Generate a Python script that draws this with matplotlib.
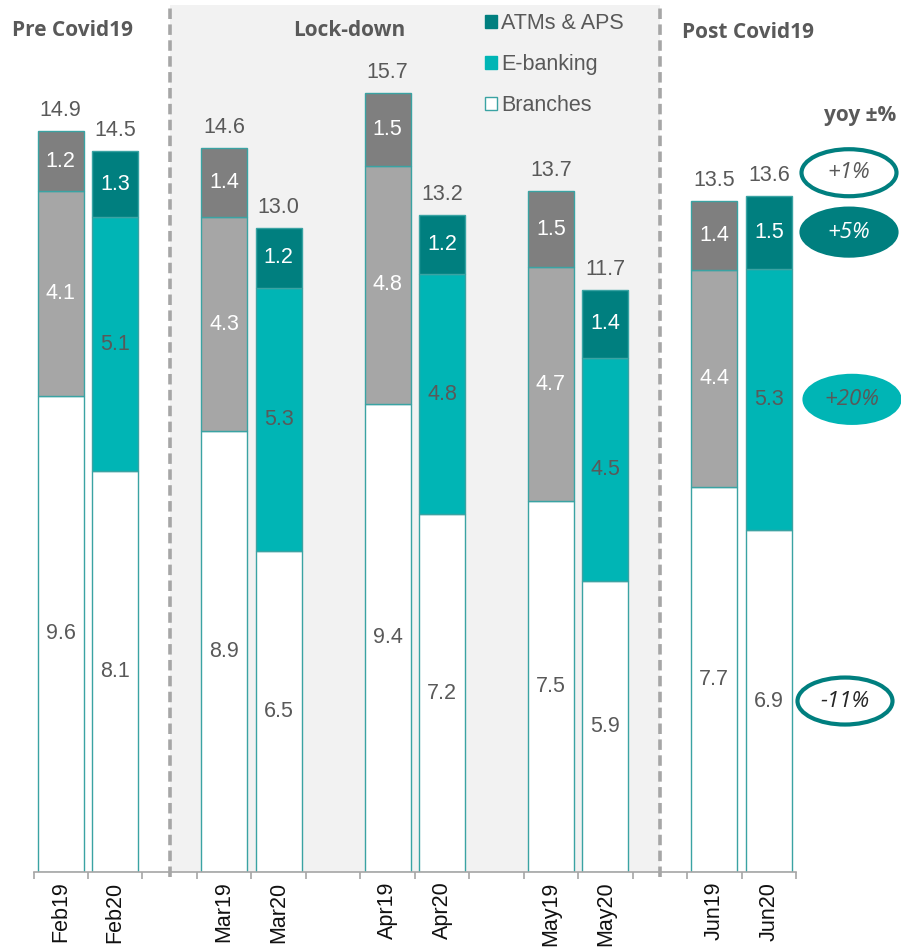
import matplotlib.pyplot as plt
import numpy as np
from matplotlib.patches import Patch, Ellipse
from matplotlib.transforms import blended_transform_factory

plt.rcParams['font.family'] = ['Liberation Sans', 'DejaVu Sans']

# monthly transactions by channel, 2019 vs 2020
months = ['Feb19', 'Feb20', 'Mar19', 'Mar20', 'Apr19', 'Apr20',
          'May19', 'May20', 'Jun19', 'Jun20']
slots = [0, 1, 3, 4, 6, 7, 9, 10, 12, 13]
branches = [9.58, 8.06, 8.87, 6.46, 9.42, 7.20, 7.46, 5.86, 7.74, 6.88]
ebanking = [4.12, 5.11, 4.31, 5.29, 4.79, 4.83, 4.71, 4.49, 4.37, 5.26]
atms = [1.21, 1.33, 1.39, 1.21, 1.47, 1.19, 1.53, 1.37, 1.39, 1.47]
channels = ['ATMs & APS', 'E-banking', 'Branches']
phases = ['Pre Covid19', 'Lock-down', 'Post Covid19']
yoy = ['+1%', '+5%', '+20%', '-11%']

teal_dark = '#007F7F'
teal = '#00B5B5'
edge = '#3AA3A3'
txt = '#595959'
fs = 15.5

fig = plt.figure(figsize=(9.01, 9.48), dpi=100)
ax = fig.add_axes([33.5/901, 76/948, 762.5/901, 867/948])
ax.set_xlim(-0.5, 13.5)
ax.set_ylim(0, 867/49.7)

# lock-down period
ax.axvspan(2, 11, color='#F2F2F2', zorder=0, lw=0)
for xd in (2, 11):
    ax.axvline(xd, ymin=-0.006, ymax=0.996, color='#A6A6A6', lw=2.6,
               ls=(0, (2.9, 1.5)), clip_on=False, zorder=1)

w = 0.845
for i, x in enumerate(slots):
    old = months[i].endswith('19')
    c_atm = '#7F7F7F' if old else teal_dark
    c_eb = '#A6A6A6' if old else teal
    b, e, a = branches[i], ebanking[i], atms[i]
    ax.bar(x, b, w, color='white', edgecolor=edge, lw=1, zorder=2)
    ax.bar(x, e, w, bottom=b, color=c_eb, edgecolor=edge, lw=1, zorder=2)
    ax.bar(x, a, w, bottom=b + e, color=c_atm, edgecolor=edge, lw=1, zorder=2)
    ax.text(x, b / 2, f'{b:.1f}', ha='center', va='center', fontsize=fs, color=txt, zorder=3)
    ax.text(x, b + e / 2, f'{e:.1f}', ha='center', va='center', fontsize=fs,
            color='white' if old else txt, zorder=3)
    ax.text(x, b + e + a / 2, f'{a:.1f}', ha='center', va='center', fontsize=fs,
            color='white', zorder=3)
    tot = b + e + a
    ax.text(x, tot + 0.3, f'{tot:.1f}', ha='center', va='baseline', fontsize=fs,
            color=txt, zorder=3)

ax.set_xticks(slots, months, rotation=90, fontsize=fs)
ax.set_xticks(np.arange(-0.5, 14, 1), minor=True)
ax.tick_params(axis='x', which='major', length=0, pad=7, labelcolor='#111111')
ax.tick_params(axis='x', which='minor', length=5, width=1.2, color='#A6A6A6')
ax.set_yticks([])
for s in ('left', 'top', 'right'):
    ax.spines[s].set_visible(False)
ax.spines['bottom'].set_color('#A6A6A6')
ax.spines['bottom'].set_linewidth(1.2)

handles = [Patch(facecolor=teal_dark, edgecolor=teal_dark),
           Patch(facecolor=teal, edgecolor=teal),
           Patch(facecolor='white', edgecolor=edge)]
ax.legend(handles, channels, loc='upper left', bbox_to_anchor=(485/901, 1 - 13/948),
          bbox_transform=fig.transFigure, frameon=False, fontsize=fs,
          handlelength=0.55, handleheight=0.55, handletextpad=0.2,
          labelspacing=0.93, borderpad=0, borderaxespad=0, labelcolor=txt)

hdr = dict(fontsize=15, fontweight='bold', color=txt, family='Open Sans', va='center')
fig.text(12/901, 1 - 31/948, phases[0], ha='left', **hdr)
fig.text(349/901, 1 - 30/948, phases[1], ha='center', **hdr)
fig.text(682/901, 1 - 33/948, phases[2], ha='left', **hdr)
fig.text(824/901, 1 - 115/948, 'yoy ±%', ha='left', **hdr)

# yoy change markers, aligned to the Jun20 stack
bt = blended_transform_factory(fig.transFigure, ax.transData)
j = months.index('Jun20')
b, e, a = branches[j], ebanking[j], atms[j]
ys = [b + e + a + 0.46, b + e + a / 2, b + e / 2, b / 2]
styles = [('white', teal_dark, txt), (teal_dark, teal_dark, 'white'),
          (teal, teal, txt), ('white', teal_dark, '#262626')]
cxs = [849, 849, 852, 845]
for lab, y, (fc, ec, tc), cx in zip(yoy, ys, styles, cxs):
    ax.add_patch(Ellipse((cx/901, y), 95/901, 47/49.7, transform=bt,
                         facecolor=fc, edgecolor=ec, lw=3, clip_on=False, zorder=4))
    ax.text(cx/901, y, lab, transform=bt, ha='center', va='center', fontsize=16,
            style='italic', color=tc, family='Open Sans', zorder=5, clip_on=False)

fig.savefig('out.png', dpi=100)
